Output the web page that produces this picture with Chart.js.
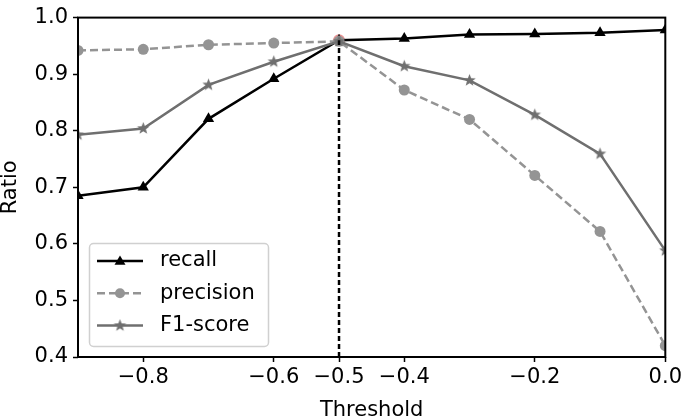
<!DOCTYPE html>
<html>
<head>
<meta charset="utf-8">
<script src="https://cdn.jsdelivr.net/npm/chart.js@4/dist/chart.umd.min.js"></script>
<style>
  html, body { margin: 0; padding: 0; background: #fff; }
</style>
</head>
<body>
<canvas id="chart" width="685" height="418"></canvas>
<script>
const thresholds = [-0.9, -0.8, -0.7, -0.6, -0.5, -0.4, -0.3, -0.2, -0.1, 0.0];
const recall    = [0.685, 0.700, 0.821, 0.892, 0.960, 0.963, 0.970, 0.971, 0.973, 0.978];
const precision = [0.942, 0.944, 0.952, 0.955, 0.958, 0.872, 0.820, 0.721, 0.622, 0.420];
const f1score   = [0.793, 0.804, 0.881, 0.922, 0.958, 0.914, 0.889, 0.828, 0.759, 0.588];
const xTicks = [-0.8, -0.6, -0.5, -0.4, -0.2, 0.0];
const yTicks = [0.4, 0.5, 0.6, 0.7, 0.8, 0.9, 1.0];
const bestThreshold = -0.5;
const bestValue = 0.96;

const FONT = "'DejaVu Sans', sans-serif";
const FS = 21;
const C_RECALL = "#000000";
const C_PREC = "#949494";
const C_F1 = "#6f6f6f";

// filled 5 point star like matplotlib '*'
function starMarker(color, r) {
  const c = document.createElement("canvas");
  const s = Math.ceil(r * 2 + 2);
  c.width = s; c.height = s;
  const g = c.getContext("2d");
  g.fillStyle = color;
  g.beginPath();
  for (let i = 0; i < 10; i++) {
    const rad = i % 2 == 0 ? r : r * 0.42;
    const a = -Math.PI / 2 + i * Math.PI / 5;
    const px = s / 2 + rad * Math.cos(a), py = s / 2 + rad * Math.sin(a);
    if (i == 0) g.moveTo(px, py); else g.lineTo(px, py);
  }
  g.closePath();
  g.fill();
  return c;
}
const star = starMarker(C_F1, 6.5);

const pts = (vals) => thresholds.map((t, i) => ({ x: t, y: vals[i] }));

const frame = {
  id: "frame",
  afterDatasetsDraw(chart) {
    const { ctx, chartArea: a } = chart;
    ctx.save();
    ctx.strokeStyle = "#000";
    ctx.lineWidth = 2;
    ctx.strokeRect(a.left, a.top, a.right - a.left, a.bottom - a.top);
    ctx.restore();
  }
};

// matplotlib style legend in lower left of axes
const boxLegend = {
  id: "boxLegend",
  afterDraw(chart) {
    const { ctx, chartArea: a } = chart;
    const items = chart.data.datasets.filter(d => d.inLegend);
    const x0 = a.left + 11, y0 = 243, w = 179, h = 103;
    ctx.save();
    ctx.fillStyle = "rgba(255,255,255,0.85)";
    ctx.strokeStyle = "#d0d0d0";
    ctx.lineWidth = 1.5;
    ctx.beginPath();
    ctx.roundRect(x0 + 0.5, y0 + 0.5, w, h, 4);
    ctx.fill();
    ctx.stroke();
    items.forEach((d, i) => {
      const y = 261 + i * 32.3;
      ctx.strokeStyle = d.borderColor;
      ctx.lineWidth = d.borderWidth;
      ctx.setLineDash(d.borderDash || []);
      ctx.beginPath();
      ctx.moveTo(x0 + 8, y);
      ctx.lineTo(x0 + 54, y);
      ctx.stroke();
      ctx.setLineDash([]);
      const mx = x0 + 31;
      ctx.fillStyle = d.pointBackgroundColor;
      if (d.pointStyle === "triangle") {
        const r = 5.5;
        ctx.beginPath();
        ctx.moveTo(mx, y - r);
        ctx.lineTo(mx + r, y + r * 0.7);
        ctx.lineTo(mx - r, y + r * 0.7);
        ctx.closePath();
        ctx.fill();
      } else if (d.pointStyle === "circle") {
        ctx.beginPath();
        ctx.arc(mx, y, 5, 0, Math.PI * 2);
        ctx.fill();
      } else {
        ctx.drawImage(d.pointStyle, mx - d.pointStyle.width / 2, y - d.pointStyle.height / 2);
      }
      ctx.fillStyle = "#000";
      ctx.font = FS + "px " + FONT;
      ctx.textBaseline = "middle";
      ctx.fillText(d.label, x0 + 71, y);
    });
    ctx.restore();
  }
};

new Chart(document.getElementById("chart"), {
  type: "line",
  data: {
    datasets: [
      {
        label: "cut",
        data: [{ x: bestThreshold, y: yTicks[0] }, { x: bestThreshold, y: bestValue }],
        borderColor: "#000",
        borderWidth: 2.5,
        borderDash: [5, 3],
        pointRadius: 0,
        order: 0
      },
      {
        label: "best",
        data: [{ x: bestThreshold, y: bestValue }],
        showLine: false,
        pointStyle: "circle",
        pointRadius: 6,
        pointBackgroundColor: "rgba(215,60,60,0.55)",
        pointBorderWidth: 0,
        order: 4
      },
      {
        label: "recall",
        inLegend: true,
        data: pts(recall),
        borderColor: C_RECALL,
        borderWidth: 2.5,
        pointStyle: "triangle",
        pointRadius: 6.5,
        pointBackgroundColor: C_RECALL,
        pointBorderColor: C_RECALL,
        pointBorderWidth: 0,
        order: 3
      },
      {
        label: "precision",
        inLegend: true,
        data: pts(precision),
        borderColor: C_PREC,
        borderWidth: 2.5,
        borderDash: [8, 4],
        pointStyle: "circle",
        pointRadius: 5.5,
        pointBackgroundColor: C_PREC,
        pointBorderColor: C_PREC,
        pointBorderWidth: 0,
        order: 2
      },
      {
        label: "F1-score",
        inLegend: true,
        data: pts(f1score),
        borderColor: C_F1,
        borderWidth: 2.5,
        pointStyle: star,
        pointBackgroundColor: C_F1,
        order: 1
      }
    ]
  },
  options: {
    responsive: false,
    animation: false,
    layout: { padding: { left: 0, right: 17, top: 7, bottom: 0 } },
    plugins: { legend: { display: false }, tooltip: { enabled: false } },
    scales: {
      x: {
        type: "linear",
        min: -0.9,
        max: 0.0,
        afterBuildTicks: (s) => { s.ticks = xTicks.map(v => ({ value: v })); },
        afterFit: (s) => { s.height = 61; },
        grid: { display: true, drawOnChartArea: false, drawTicks: true, tickLength: 5, color: "#000", tickWidth: 1.5 },
        border: { display: false },
        ticks: {
          color: "#000",
          padding: 3,
          maxRotation: 0,
          autoSkip: false,
          font: { family: FONT, size: FS },
          callback: (v) => (v < 0 ? "\u2212" : "") + Math.abs(v).toFixed(1)
        },
        title: {
          display: true,
          text: "Threshold",
          color: "#000",
          padding: 0,
          font: { family: FONT, size: FS, lineHeight: 0.7 }
        }
      },
      y: {
        min: 0.4,
        max: 1.0,
        afterBuildTicks: (s) => { s.ticks = yTicks.map(v => ({ value: v })); },
        afterFit: (s) => { s.width = 78; },
        grid: { display: true, drawOnChartArea: false, drawTicks: true, tickLength: 5, color: "#000", tickWidth: 1.5 },
        border: { display: false },
        ticks: {
          color: "#000",
          padding: 5,
          font: { family: FONT, size: FS },
          callback: (v) => v.toFixed(1)
        },
        title: {
          display: true,
          text: "Ratio",
          color: "#000",
          padding: 0,
          font: { family: FONT, size: FS, lineHeight: 1.05 }
        }
      }
    }
  },
  plugins: [frame, boxLegend]
});
</script>
</body>
</html>
